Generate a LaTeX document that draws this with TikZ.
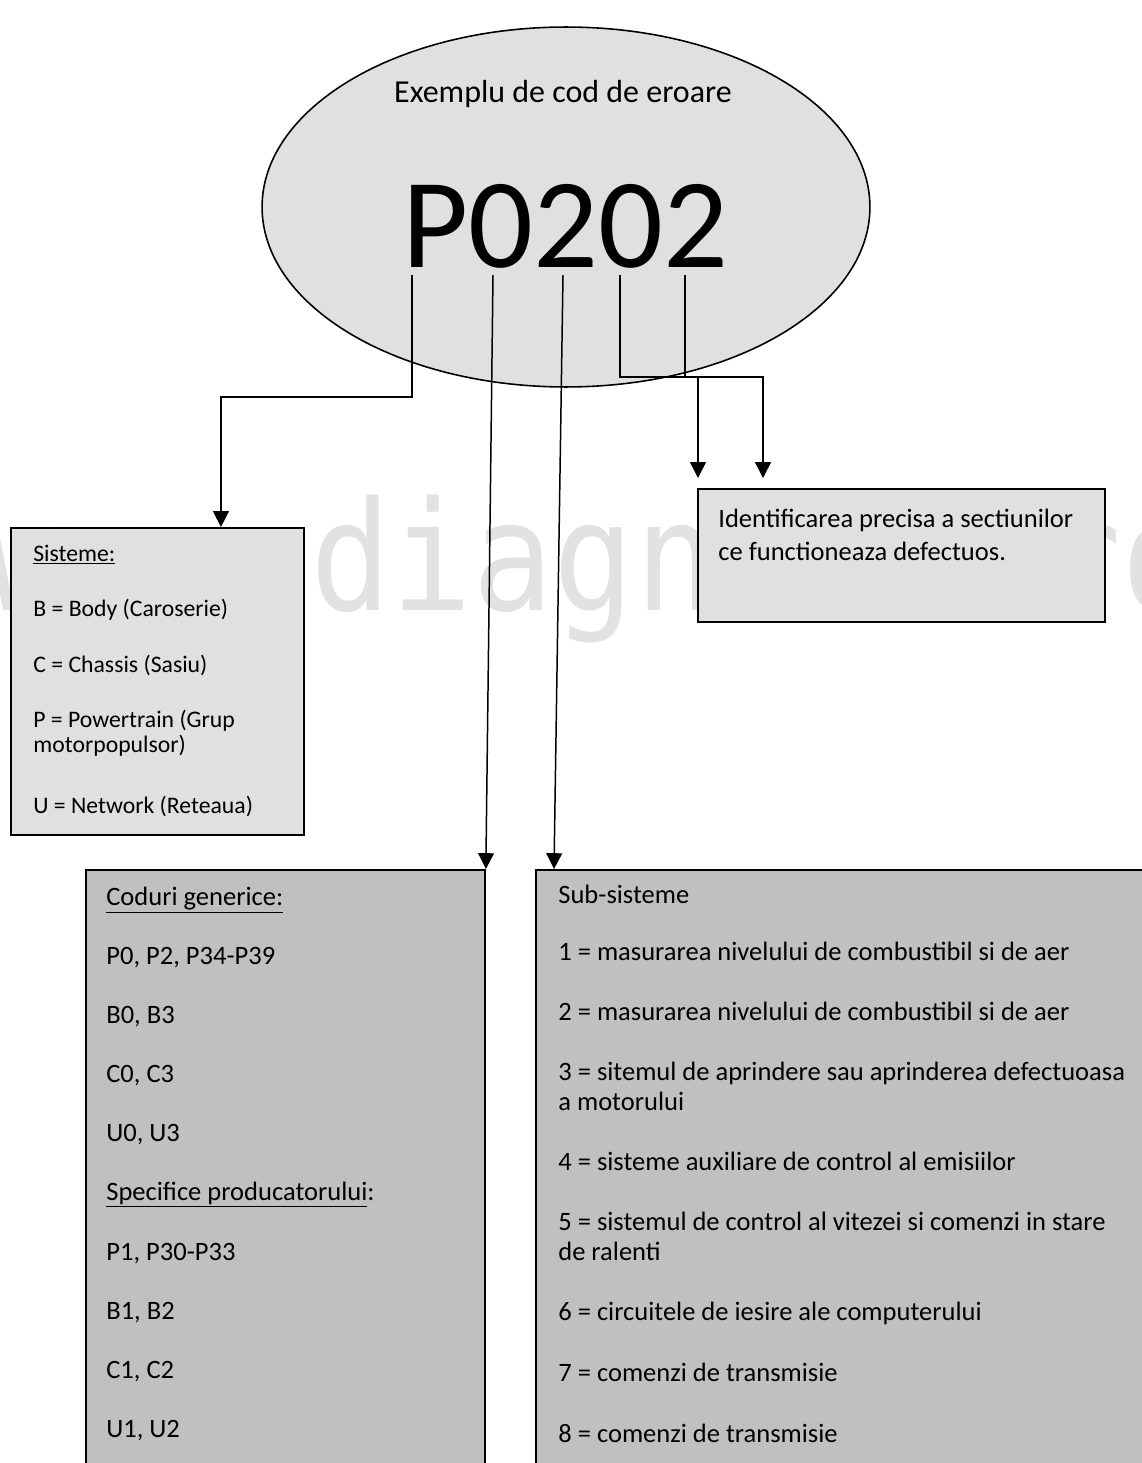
\documentclass[tikz,border=0pt]{standalone}
\usepackage{fontspec}
\setmainfont{Carlito}
\newfontfamily\wmfont{DejaVu Sans Mono}
\usetikzlibrary{arrows.meta,shapes.geometric}
\definecolor{lightfill}{RGB}{224,224,224}
\definecolor{darkfill}{RGB}{192,192,192}
\definecolor{wmgray}{RGB}{226,226,226}

\begin{document}
\begin{tikzpicture}[x=0.02cm, y=-0.02cm, main/.style={draw, ellipse, fill=lightfill, line width=0.9pt, minimum width=12.16cm, minimum height=7.2cm, inner sep=0pt}, info/.style={draw, fill=lightfill, line width=1.1pt, anchor=north west, inner sep=0pt}, list/.style={draw, fill=darkfill, line width=1.1pt, anchor=north west, inner sep=0pt}, txt/.style={anchor=base west, inner sep=0pt, font=\fontsize{15.1}{18}\selectfont}, stxt/.style={txt, font=\fontsize{13.5}{16}\selectfont}, n/.style={line width=0.85pt}, na/.style={n, -{Triangle[length=9pt, width=9pt]}}]
            \useasboundingbox (0,0) rectangle (1142,1463);
            % watermark
            \node[anchor=base west, inner sep=0pt, text=wmgray, font=\wmfont\fontsize{76.6}{80}\selectfont] (wm) at (-13.5,610) {\scalebox{1}[1.13]{www.diagnoza.ro}};
            % code
            \node[main] (bubble) at (566,207) {};
            \node[anchor=base, font=\fontsize{18.2}{21}\selectfont] (title) at (563,103) {Exemplu de cod de eroare};
            \node[anchor=base, font=\fontsize{72.9}{80}\selectfont] (pcode) at (565,267) {P0202};
            \coordinate (dP) at (412,275);
            \coordinate (d0a) at (493,275);
            \coordinate (d2a) at (563,275);
            \coordinate (d0b) at (620,275);
            \coordinate (d2b) at (685,275);
            \coordinate (bar) at (763,377);
            \coordinate (id1) at (698,478);
            \coordinate (id2) at (763,478);
            % boxes
            \node[info, minimum width=5.86cm, minimum height=6.14cm] (sist) at (10,527) {};
            \node[info, minimum width=8.14cm, minimum height=2.66cm] (ident) at (697,488) {};
            \node[list, minimum width=7.98cm, minimum height=12.3cm] (cod) at (85,869) {};
            \node[list, minimum width=12.4cm, minimum height=12.3cm] (subs) at (535,869) {};
            % texts
            \foreach \y/\t [count=\i] in {561/{\underline{Sisteme:}}, 616/{B = Body (Caroserie)}, 672/{C = Chassis (Sasiu)}, 727/{P = Powertrain (Grup}, 752/{motorpopulsor)}, 813/{U = Network (Reteaua)}}
                \node[stxt] (s\i) at (33,\y) {\t};
            \node[txt] (id1t) at (718,527) {Identificarea precisa a sectiunilor};
            \node[txt] (id2t) at (718,560) {ce functioneaza defectuos.};
            \foreach \y/\t [count=\i] in {905/{\underline{Coduri generice:}}, 964/{P0, P2, P34-P39}, 1023/{B0, B3}, 1082/{C0, C3}, 1141/{U0, U3}, 1200/{\underline{Specifice producatorului}:}, 1260/{P1, P30-P33}, 1319/{B1, B2}, 1378/{C1, C2}, 1437/{U1, U2}}
                \node[txt] (c\i) at (106,\y) {\t};
            \foreach \y/\t [count=\i] in {903/{Sub-sisteme}, 960/{1 = masurarea nivelului de combustibil si de aer}, 1020/{2 = masurarea nivelului de combustibil si de aer}, 1080/{3 = sitemul de aprindere sau aprinderea defectuoasa}, 1110/{a motorului}, 1170/{4 = sisteme auxiliare de control al emisiilor}, 1230/{5 = sistemul de control al vitezei si comenzi in stare}, 1260/{de ralenti}, 1320/{6 = circuitele de iesire ale computerului}, 1381/{7 = comenzi de transmisie}, 1442/{8 = comenzi de transmisie}}
                \node[txt] (u\i) at (558,\y) {\t};
            % edges
            \draw[na] (dP) -- ++(0,122) -| ([xshift=4.22cm]sist.north west);
            \draw[na] (d0a) -- (cod.north east);
            \draw[na] (d2a) -- ([xshift=0.38cm]subs.north west);
            \draw[na] (d0b) |- (bar) -- (id2);
            \draw[n] (d2b) -- (d2b |- bar);
            \draw[na] (id1 |- bar) -- (id1);
\end{tikzpicture}
\end{document}
